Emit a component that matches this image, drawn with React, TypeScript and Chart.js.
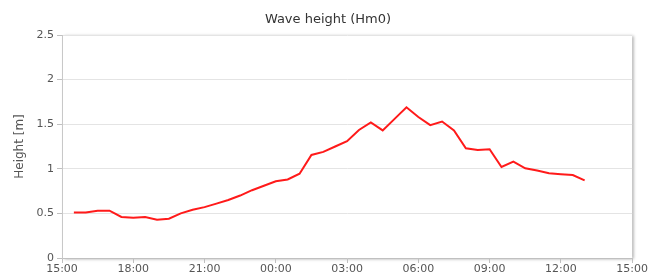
import React, { useEffect, useRef } from "react";
import { Chart, registerables } from "chart.js";

Chart.register(...registerables);

const chartTitle = "Wave height (Hm0)";
const yAxisTitle = "Height [m]";

const times = [
  "15:30", "16:00", "16:30", "17:00", "17:30", "18:00", "18:30", "19:00", "19:30", "20:00",
  "20:30", "21:00", "21:30", "22:00", "22:30", "23:00", "23:30", "00:00", "00:30", "01:00",
  "01:30", "02:00", "02:30", "03:00", "03:30", "04:00", "04:30", "05:00", "05:30", "06:00",
  "06:30", "07:00", "07:30", "08:00", "08:30", "09:00", "09:30", "10:00", "10:30", "11:00",
  "11:30", "12:00", "12:30", "13:00",
];

const hm0 = [
  0.51, 0.51, 0.53, 0.53, 0.46, 0.45, 0.46, 0.43, 0.44, 0.5,
  0.54, 0.57, 0.61, 0.65, 0.7, 0.76, 0.81, 0.86, 0.88, 0.945,
  1.155, 1.19, 1.25, 1.31, 1.435, 1.52, 1.43, 1.56, 1.69, 1.58,
  1.49, 1.53, 1.43, 1.23, 1.21, 1.22, 1.02, 1.08, 1.005, 0.98,
  0.95, 0.94, 0.93, 0.87,
];

const startHour = 15;
const xMax = 24;
const xStep = 3;
const yMax = 2.5;
const yStep = 0.5;

function hoursFromStart(t: string): number {
  const [h, m] = t.split(":").map(Number);
  return (h + m / 60 - startHour + 24) % 24;
}

const plotShadow = {
  id: "plotShadow",
  beforeDraw(chart: any) {
    const { ctx, chartArea } = chart;
    const { left, top, right, bottom } = chartArea;
    ctx.save();
    ctx.shadowColor = "rgba(0,0,0,0.35)";
    ctx.shadowBlur = 3;
    ctx.shadowOffsetX = 2;
    ctx.shadowOffsetY = 1;
    ctx.fillStyle = "#ffffff";
    ctx.fillRect(left, top, right - left, bottom - top);
    ctx.restore();
  },
};

export default function App() {
  const ref = useRef<HTMLCanvasElement | null>(null);

  useEffect(() => {
    if (!ref.current) return;
    const points = times.map((t, i) => ({ x: hoursFromStart(t), y: hm0[i] }));
    const chart = new Chart(ref.current, {
      type: "line",
      data: {
        datasets: [
          {
            label: "Hm0",
            data: points,
            borderColor: "#ff1a1a",
            borderWidth: 2,
            pointRadius: 0,
            tension: 0,
            fill: false,
          },
        ],
      },
      options: {
        responsive: false,
        animation: false,
        layout: { padding: { left: 8, right: 0, top: 0, bottom: 0 } },
        plugins: {
          legend: { display: false },
          tooltip: { enabled: false },
          title: {
            display: true,
            text: chartTitle,
            color: "#333333",
            font: { family: "DejaVu Sans", size: 13, weight: "normal" },
            padding: { top: 12, bottom: 7.4 },
          },
        },
        scales: {
          x: {
            type: "linear",
            min: 0,
            max: xMax,
            afterFit(scale: any) {
              scale.height = 17;
            },
            ticks: {
              stepSize: xStep,
              padding: 0,
              maxRotation: 0,
              autoSkip: false,
              color: "#555555",
              font: { family: "DejaVu Sans", size: 11 },
              callback: (v: any) => {
                const h = (startHour + Number(v)) % 24;
                return String(h).padStart(2, "0") + ":00";
              },
            },
            grid: {
              drawOnChartArea: false,
              drawTicks: true,
              tickLength: 5,
              tickColor: "#c0c0c0",
            },
            border: { color: "#c0c0c0", width: 1 },
          },
          y: {
            min: 0,
            max: yMax,
            afterFit(scale: any) {
              scale.width = 54;
            },
            title: {
              display: true,
              text: yAxisTitle,
              color: "#555555",
              font: { family: "DejaVu Sans", size: 12 },
              padding: { top: 5, bottom: 0 },
            },
            ticks: {
              stepSize: yStep,
              padding: 3,
              color: "#555555",
              font: { family: "DejaVu Sans", size: 11 },
              callback: (v: any) => String(v),
            },
            grid: {
              color: "#e4e4e4",
              lineWidth: 1,
              drawTicks: true,
              tickLength: 5,
              tickColor: "#c0c0c0",
            },
            border: { color: "#c8c8c8", width: 1 },
          },
        },
      },
      plugins: [plotShadow],
    });
    return () => chart.destroy();
  }, []);

  return (
    <div style={{ position: "absolute", left: 0, top: 0, width: 648, height: 275 }}>
      <canvas ref={ref} width={648} height={275} />
    </div>
  );
}
